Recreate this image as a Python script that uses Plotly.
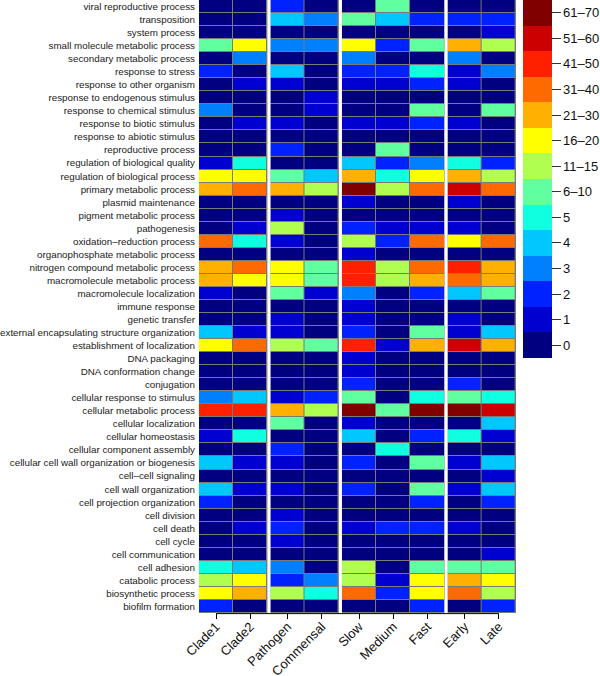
import plotly.graph_objects as go

rows = [
    "viral reproductive process", "transposition", "system process",
    "small molecule metabolic process", "secondary metabolic process",
    "response to stress", "response to other organism",
    "response to endogenous stimulus", "response to chemical stimulus",
    "response to biotic stimulus", "response to abiotic stimulus",
    "reproductive process", "regulation of biological quality",
    "regulation of biological process", "primary metabolic process",
    "plasmid maintenance", "pigment metabolic process", "pathogenesis",
    "oxidation–reduction process", "organophosphate metabolic process",
    "nitrogen compound metabolic process", "macromolecule metabolic process",
    "macromolecule localization", "immune response", "genetic transfer",
    "external encapsulating structure organization",
    "establishment of localization", "DNA packaging",
    "DNA conformation change", "conjugation",
    "cellular response to stimulus", "cellular metabolic process",
    "cellular localization", "cellular homeostasis",
    "cellular component assembly",
    "cellular cell wall organization or biogenesis", "cell–cell signaling",
    "cell wall organization", "cell projection organization",
    "cell division", "cell death", "cell cycle", "cell communication",
    "cell adhesion", "catabolic process", "biosynthetic process",
    "biofilm formation",
]

columns = ["Clade1", "Clade2", "Pathogen", "Commensal", "Slow", "Medium",
           "Fast", "Early", "Late"]
group_sizes = [2, 2, 3, 2]

level_labels = ["0", "1", "2", "3", "4", "5", "6–10", "11–15", "16–20",
                "21–30", "31–40", "41–50", "51–60", "61–70"]
level_colors = ["#000080", "#0000D0", "#0022FF", "#0080FF", "#00C8FF",
                "#10FFE0", "#60FFA0", "#B0FF50", "#FFFF00", "#FFB000",
                "#FF6A00", "#FF2000", "#CC0000", "#800000"]

# values are level indices into level_labels, one per row (top to bottom)
clade1 =    [0,0,0,6,0,2,0,0,3,0,0,0,1,8,9,0,0,0,10,0,9,9,1,0,0,4,8,0,0,0,3,11,0,1,0,4,0,4,2,0,0,0,0,5,7,8,2]
clade2 =    [0,0,0,8,3,0,1,0,0,1,0,0,5,8,10,0,0,1,5,0,10,8,0,0,0,1,10,0,0,0,4,11,0,5,0,1,0,1,0,0,1,0,0,4,8,9,0]
pathogen =  [2,4,0,3,0,4,1,0,0,1,0,2,0,6,9,0,1,7,1,0,8,8,6,0,1,1,7,0,0,0,1,9,6,0,2,1,0,1,0,1,2,1,0,3,2,7,0]
commensal = [0,3,0,3,0,0,0,1,1,0,0,0,0,4,7,0,0,0,0,0,6,6,1,0,0,0,6,0,0,0,2,7,0,0,0,0,0,0,0,0,0,0,0,0,3,5,0]
slow =      [0,6,0,8,3,2,1,0,0,1,0,0,4,9,13,1,0,2,7,1,11,11,3,1,1,2,11,1,1,2,6,13,1,4,0,2,0,2,0,0,1,0,0,7,7,10,0]
medium =    [6,4,0,2,0,2,1,0,0,1,0,6,2,5,7,0,0,1,2,0,7,7,0,0,0,0,1,0,0,0,0,6,0,0,5,0,0,0,0,0,2,0,0,0,1,2,0]
fast =      [0,2,0,6,0,5,2,0,6,2,0,0,3,8,10,0,0,1,10,0,10,9,2,0,0,6,9,0,0,0,5,13,0,2,0,6,0,6,2,0,2,0,0,6,8,8,2]
early =     [0,2,0,9,3,1,1,0,0,1,0,0,5,9,12,1,0,1,8,0,11,10,4,0,1,1,12,0,0,2,6,13,0,5,0,1,0,1,0,0,1,0,0,6,9,10,0]
late =      [0,2,1,7,0,3,0,0,6,0,0,0,2,7,10,0,0,0,10,0,9,9,6,0,0,4,9,0,0,0,5,12,4,1,0,4,1,4,2,0,0,0,1,6,8,7,2]

series = [clade1, clade2, pathogen, commensal, slow, medium, fast, early, late]

GAP = 0.09
n_levels = len(level_labels)
colorscale = []
for i, c in enumerate(level_colors):
    colorscale.append([i / n_levels, c])
    colorscale.append([(i + 1) / n_levels, c])

font_family = "Liberation Sans"

fig = go.Figure()
pos = 0.0
col = 0
centers = []
gap_spans = []
for gi, n in enumerate(group_sizes):
    edges = [pos + k for k in range(n + 1)]
    z = [[series[col + k][r] for k in range(n)] for r in range(len(rows))]
    centers += [pos + k + 0.5 for k in range(n)]
    fig.add_trace(go.Heatmap(
        z=z, x=edges, y=rows,
        zmin=-0.5, zmax=n_levels - 0.5,
        colorscale=colorscale,
        xgap=1, ygap=1,
        showscale=(gi == 0),
        colorbar=dict(
            tickvals=list(range(n_levels)), ticktext=level_labels,
            lenmode="pixels", len=358, thickness=29,
            x=1.022, xanchor="left", xpad=0,
            y=1, yanchor="top", ypad=0,
            outlinewidth=0,
            ticks="outside", ticklen=9, tickcolor="#333", tickwidth=1,
            tickfont=dict(size=13, color="#111", family=font_family),
        ),
        hovertemplate="%{y}<br>%{z}<extra></extra>",
    ))
    col += n
    pos += n
    if gi < len(group_sizes) - 1:
        gap_spans.append((pos, pos + GAP))
        pos += GAP

total = pos

shapes = []
for a, b in gap_spans:
    shapes.append(dict(type="rect", xref="x", yref="paper", x0=a, x1=b,
                       y0=0, y1=1, fillcolor="white", line=dict(width=0),
                       layer="above"))
shapes.append(dict(type="line", xref="x", yref="paper",
                   x0=centers[0], x1=centers[-1], y0=-0.001, y1=-0.001,
                   line=dict(color="black", width=1)))

fig.update_layout(
    width=600, height=676,
    margin=dict(l=199, r=84, t=0, b=63),
    paper_bgcolor="white",
    plot_bgcolor="#7a7a7a",
    font=dict(family=font_family, color="#111"),
    shapes=shapes,
    xaxis=dict(
        range=[0, total], tickmode="array", tickvals=centers,
        ticktext=columns, tickangle=-45,
        ticks="outside", ticklen=5, tickcolor="black", tickwidth=1,
        tickfont=dict(size=13, color="#111"),
        showgrid=False, zeroline=False, showline=False, automargin=False,
        ticklabelstandoff=-5, fixedrange=True,
    ),
    yaxis=dict(
        autorange="reversed", type="category",
        tickfont=dict(size=9.8, color="#1a1a1a"),
        ticks="", showgrid=False, zeroline=False, showline=False,
        automargin=False, ticklabelstandoff=3, fixedrange=True,
    ),
)

fig.write_html(
    "out.html",
    config={"displayModeBar": False},
    post_script="document.body.style.margin='0';document.body.style.overflow='hidden';",
)
